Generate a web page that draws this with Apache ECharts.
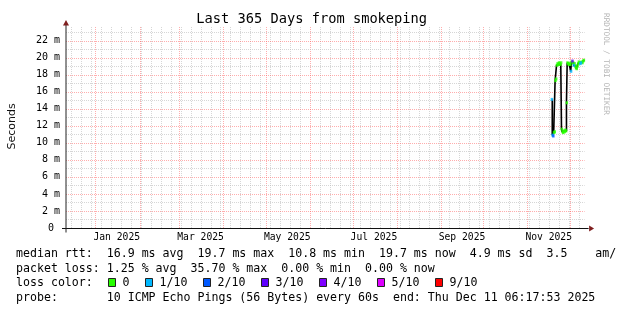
<!DOCTYPE html>
<html>
<head>
<meta charset="utf-8">
<script src="https://cdn.jsdelivr.net/npm/echarts@6/dist/echarts.min.js"></script>
<style>html,body{margin:0;padding:0;background:#fff;}#c{width:617px;height:310px;}</style>
</head>
<body>
<div id="c"></div>
<script>
// ---------- data ----------
const startTime = '2024-12-11T06:17:53Z';
const endTime = '2025-12-11T06:17:53Z';
const firstPoint = '2025-11-18T12:00:00Z';
const stepHours = 12;
// median rtt per 12h step (milliseconds)
const medianMs = [15.1, 10.9, 10.8, 11.2, 11.3, 17.3, 17.5, 19.1, 19.3, 19.2, 19.4, 19.3, 19.2, 19.4,
  11.6, 11.3, 11.2, 11.4, 11.3, 11.5, 11.4, 14.7, 19.4, 19.3, 19.2, 19.3, 19.2, 18.4, 19.5, 19.6,
  19.4, 19.1, 19.3, 19.0, 18.8, 18.7, 19.0, 19.3, 19.5, 19.4, 19.3, 19.4, 19.5, 19.4, 19.6, 19.7];
// loss bucket index per step (index into lossLabels)
const lossLevel = [1, 1, 2, 0, 0, 0, 0, 0, 0, 0, 0, 0, 0, 0,
  0, 0, 0, 0, 0, 0, 0, 0, 0, 0, 0, 0, 0, 1, 0, 3,
  0, 1, 0, 0, 0, 0, 0, 0, 0, 0, 1, 1, 0, 0, 0, 0];
const lossLabels = ['0', '1/10', '2/10', '3/10', '4/10', '5/10', '9/10'];
const lossColors = ['#26ff00', '#00b8ff', '#0059ff', '#5e00ff', '#7e00ff', '#dd00ff', '#ff0000'];
const yMin = 0, yMax = 23.6;
const monthLabels = ['Jan 2025', 'Mar 2025', 'May 2025', 'Jul 2025', 'Sep 2025', 'Nov 2025'];
const monthLabelDates = ['2025-01-16', '2025-03-16', '2025-05-16', '2025-07-16', '2025-09-16', '2025-11-16'];
const titleText = 'Last 365 Days from smokeping';
const yName = 'Seconds';
const watermark = 'RRDTOOL / TOBI OETIKER';
const statLine1 = 'median rtt:  16.9 ms avg  19.7 ms max  10.8 ms min  19.7 ms now  4.9 ms sd  3.5    am/s';
const statLine2 = 'packet loss: 1.25 % avg  35.70 % max  0.00 % min  0.00 % now';
const statLine3 = 'loss color:';
const statLine4 = 'probe:       10 ICMP Echo Pings (56 Bytes) every 60s  end: Thu Dec 11 06:17:53 2025';

(function () {
const MONO = '"DejaVu Sans Mono", monospace';
const startMs = Date.parse(startTime), endMs = Date.parse(endTime);
const stepMs = stepHours * 3600e3;
const t0 = Date.parse(firstPoint);
const medianPts = medianMs.map((v, i) => [t0 + i * stepMs, v]);
const labelVals = monthLabelDates.map(d => Date.parse(d + 'T00:00:00Z'));

const vGrid = [];
const monthStarts = [];
for (let y = 2024, m = 11; ; ) {
  const t = Date.UTC(y, m, 1);
  if (t > endMs) break;
  if (t > startMs) { monthStarts.push(t); vGrid.push([t, 0, 1]); }
  m++; if (m > 11) { m = 0; y++; }
}
for (let t = Date.UTC(2024, 11, 15); t < endMs; t += 7 * 864e5) {
  if (t > startMs && monthStarts.indexOf(t) < 0) vGrid.push([t, 0, 0]);
}
vGrid.sort((a, b) => a[2] - b[2]);
const hGrid = [];
for (let v = 1; v <= Math.floor(yMax); v++) hGrid.push([startMs, v, v % 2 === 0 ? 1 : 0]);
hGrid.sort((a, b) => a[2] - b[2]);

const MINOR = 'rgba(186,186,186,0.6)';
const MAJOR = 'rgba(255,92,92,0.5)';

const chart = echarts.init(document.getElementById('c'), null, {renderer: 'canvas', width: 617, height: 310});

const lossSeries = lossColors.map((c, k) => ({
  type: 'scatter', symbol: 'rect', symbolSize: [2.5, 3], z: 4, silent: true,
  itemStyle: {color: c},
  data: medianPts.filter((p, i) => lossLevel[i] === k).map(p => [p[0] - stepMs / 2, p[1]])
}));

chart.setOption({
  animation: false,
  backgroundColor: '#ffffff',
  grid: {left: 66, right: 32.4, top: 27, bottom: 82},
  xAxis: {
    type: 'value', min: startMs, max: endMs,
    axisLine: {show: false}, axisTick: {show: false}, splitLine: {show: false},
    axisLabel: {
      customValues: labelVals, margin: 4, color: '#000', fontFamily: MONO, fontSize: 9.7,
      formatter: v => { const i = labelVals.indexOf(v); return i >= 0 ? monthLabels[i] : ''; }
    }
  },
  yAxis: {
    type: 'value', min: yMin, max: yMax, interval: 2,
    axisLine: {show: false}, axisTick: {show: false}, splitLine: {show: false},
    axisLabel: {
      margin: 6, color: '#000', fontFamily: MONO, fontSize: 10,
      formatter: v => (v % 2 === 0 && v <= 22) ? (v === 0 ? '0 ' : v + ' m') : ''
    }
  },
  series: [
    {
      type: 'custom', silent: true, z: 1, data: vGrid, encode: {x: 0, y: 1},
      renderItem: (params, api) => {
        const cs = params.coordSys;
        const p = api.coord([api.value(0), 0]);
        const x = Math.round(p[0]) + 0.5;
        return {type: 'line', shape: {x1: x, y1: cs.y, x2: x, y2: cs.y + cs.height},
          style: {stroke: api.value(2) ? MAJOR : MINOR, lineWidth: 1, lineDash: [1, 1]}};
      }
    },
    {
      type: 'custom', silent: true, z: 1, data: hGrid, encode: {x: 0, y: 1},
      renderItem: (params, api) => {
        const cs = params.coordSys;
        const p = api.coord([api.value(0), api.value(1)]);
        const y = Math.round(p[1]) + 0.5;
        return {type: 'line', shape: {x1: cs.x, y1: y, x2: cs.x + cs.width, y2: y},
          style: {stroke: api.value(2) ? MAJOR : MINOR, lineWidth: 1, lineDash: [1, 1]}};
      }
    },
    {
      type: 'line', step: 'start', data: medianPts, symbol: 'none', z: 3, silent: true,
      lineStyle: {color: '#000', width: 1.6}
    }
  ].concat(lossSeries)
});

const o = chart.convertToPixel({gridIndex: 0}, [startMs, yMin]);
const e = chart.convertToPixel({gridIndex: 0}, [endMs, yMax]);
const ox = Math.round(o[0]), oy = Math.round(o[1]) + 0.5;
const rightX = e[0], topY = e[1];
const ARROW = '#7f1f1f';
const g = [];
g.push({type: 'line', shape: {x1: ox - 4, y1: oy, x2: rightX + 4, y2: oy}, style: {stroke: '#111', lineWidth: 1}, z: 10});
g.push({type: 'line', shape: {x1: ox, y1: oy + 4, x2: ox, y2: topY - 4}, style: {stroke: '#222', lineWidth: 1}, z: 10});
g.push({type: 'polygon', shape: {points: [[ox - 3, topY - 1.5], [ox + 3, topY - 1.5], [ox, topY - 7]]}, style: {fill: ARROW}, z: 11});
g.push({type: 'polygon', shape: {points: [[rightX + 4.5, oy - 3], [rightX + 4.5, oy + 3], [rightX + 9.5, oy]]}, style: {fill: ARROW}, z: 11});
g.push({type: 'text', x: 311.7, y: 19.5, style: {text: titleText, fontFamily: MONO, fontSize: 13.7, fill: '#000', align: 'center', verticalAlign: 'middle'}});
g.push({type: 'text', x: 11.7, y: 126.5, rotation: Math.PI / 2, style: {text: yName, fontFamily: '"DejaVu Sans", sans-serif', fontSize: 11, fill: '#111', align: 'center', verticalAlign: 'middle'}});
g.push({type: 'text', x: 606, y: 64, rotation: -Math.PI / 2, style: {text: watermark, fontFamily: MONO, fontSize: 7.7, fill: '#b4b4b4', align: 'center', verticalAlign: 'middle'}});
const rowsY = [254, 268.5, 283, 297.5];
const legendX = 16;
[statLine1, statLine2, statLine3, statLine4].forEach((s, i) => {
  g.push({type: 'text', x: legendX, y: rowsY[i], style: {text: s, fontFamily: MONO, fontSize: 11.6, fill: '#000', align: 'left', verticalAlign: 'middle'}});
});
let bx = 108;
lossLabels.forEach((lab, k) => {
  g.push({type: 'rect', shape: {x: bx + 0.5, y: rowsY[2] - 4.5, width: 7, height: 8}, style: {fill: lossColors[k], stroke: '#222', lineWidth: 1}});
  g.push({type: 'text', x: bx + 14.5, y: rowsY[2], style: {text: lab, fontFamily: MONO, fontSize: 11.6, fill: '#000', align: 'left', verticalAlign: 'middle'}});
  bx += 30 + 7 * lab.length;
});
chart.setOption({graphic: {elements: g}});
})();
</script>
</body>
</html>
